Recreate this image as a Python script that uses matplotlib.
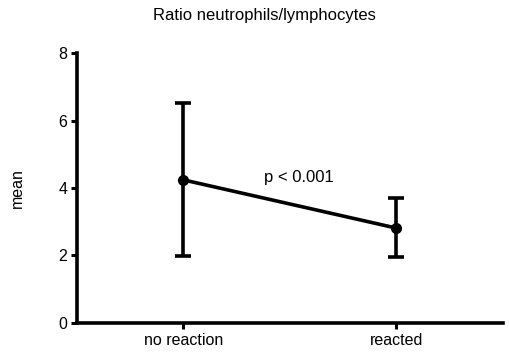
import matplotlib.pyplot as plt

groups = ['no reaction', 'reacted']
means = [4.24, 2.81]
lower = [1.97, 1.96]
upper = [6.52, 3.71]
yticks = [0, 2, 4, 6, 8]

plt.rcParams['font.family'] = ['Liberation Sans', 'DejaVu Sans']

fig = plt.figure(figsize=(5.09, 3.54), dpi=100)
ax = fig.add_axes([0.151, 0.088, 0.837, 0.762])

x = list(range(len(groups)))
err = [[m - lo for m, lo in zip(means, lower)], [hi - m for m, hi in zip(means, upper)]]
ax.errorbar(x, means, yerr=err, color='black', lw=2.6, marker='o', ms=7,
            capsize=6, capthick=2.6, elinewidth=2.6)

ax.text(0.54, 4.3, 'p < 0.001', fontsize=12, ha='center', va='center')

ax.set_xlim(-0.5, 1.5)
ax.set_ylim(0, 8)
ax.set_yticks(yticks)
ax.set_xticks(x)
ax.set_xticklabels(groups)
ax.tick_params(labelsize=11.5, width=2.2, length=4, color='black')
ax.tick_params(axis='x', pad=3)
ax.tick_params(axis='y', pad=3)
for s in ['top', 'right']:
    ax.spines[s].set_visible(False)
for s in ['left', 'bottom']:
    ax.spines[s].set_linewidth(2.6)

ax.set_ylabel('mean', fontsize=11.5, labelpad=24)
fig.text(0.52, 0.955, 'Ratio neutrophils/lymphocytes', ha='center', va='center', fontsize=12)

plt.savefig('out.png', dpi=100)
